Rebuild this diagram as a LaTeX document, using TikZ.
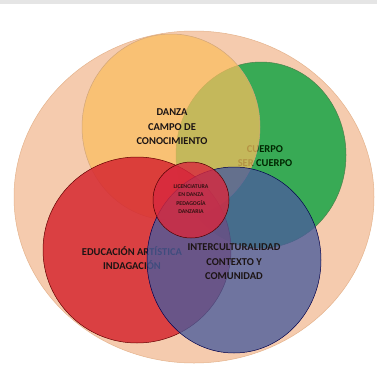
\documentclass[tikz,border=0pt]{standalone}
\usepackage{fontspec}
\setmainfont{Carlito}
\definecolor{peach}{HTML}{F5CBAE}
\definecolor{orangec}{HTML}{FBBE5E}
\definecolor{greenc}{HTML}{38AA55}
\definecolor{redc}{HTML}{D62830}
\definecolor{bluec}{HTML}{4A5C9C}
\definecolor{centerc}{HTML}{D8283E}
\definecolor{txt}{HTML}{1C1414}
\tikzset{
  ring/.style={draw=black!45, line width=0.5pt},
  lbl/.style={font=\bfseries\fontsize{10.5}{14.5}\selectfont, text=txt, align=center, inner sep=0pt},
  tiny/.style={font=\bfseries\fontsize{5.8}{8.6}\selectfont, text=txt!90!red, align=center, inner sep=0pt}
}
\begin{document}
\begin{tikzpicture}[x=1pt,y=-1pt]
\useasboundingbox (0,0) rectangle (377,364);
\fill[white] (0,0) rectangle (377,364);
\fill[black!10] (0,0) rectangle (377,4);
% outer
\draw[ring, fill=peach, draw=peach!70!brown] (194,197) ellipse [x radius=180, y radius=166];
% green
\draw[ring, fill=greenc, draw=green!30!black!70] (261,155) ellipse [x radius=85, y radius=93];
\node[lbl, text=green!15!black] (cuerpo) at (265,156) {CUERPO\\SER CUERPO};
% orange
\draw[ring, fill=orangec, fill opacity=0.72, draw=brown!70] (171,127) ellipse [x radius=89, y radius=93];
\node[lbl] (danza) at (172,127) {DANZA\\CAMPO DE\\CONOCIMIENTO};
% red
\draw[ring, fill=redc, fill opacity=0.85, draw=red!40!black] (137,250) ellipse [x radius=94, y radius=93];
\node[lbl] (edu) at (132,258) {EDUCACIÓN ARTÍSTICA\\INDAGACIÓN};
% blue
\draw[ring, fill=bluec, fill opacity=0.78, draw=blue!30!black] (234,260) ellipse [x radius=87, y radius=93];
\node[lbl] (inter) at (234,262) {INTERCULTURALIDAD\\CONTEXTO Y\\COMUNIDAD};
% center
\draw[ring, fill=centerc, fill opacity=0.8, draw=red!30!black] (191,200) circle [radius=38];
\node[tiny] (lic) at (191,199) {LICENCIATURA\\EN DANZA\\PEDAGOGÍA\\DANZARIA};
\end{tikzpicture}
\end{document}
